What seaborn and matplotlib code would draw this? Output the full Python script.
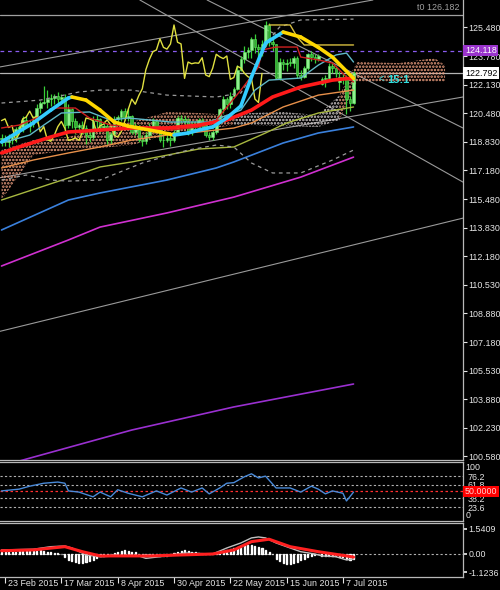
import numpy as np
import pandas as pd
import seaborn as sns
import matplotlib.pyplot as plt
from matplotlib.transforms import ScaledTranslation

# USDJPY daily bars, 20 Feb - 10 Jul 2015
dates = pd.bdate_range("2015-02-20", periods=101)
opens = [119.00, 119.05, 118.80, 118.90, 119.20, 119.55, 119.65, 120.10, 119.75, 119.85,
         120.10, 120.80, 121.05, 121.15, 121.30, 121.35, 121.45, 121.30, 121.40, 119.80,
         120.70, 120.00, 119.70, 119.80, 119.60, 119.20, 119.10, 120.05, 120.15, 119.65,
         119.75, 118.90, 119.30, 120.15, 120.25, 120.60, 120.20, 120.30, 119.40, 119.70,
         118.95, 118.85, 119.20, 119.70, 120.00, 119.60, 118.90, 118.95, 119.05, 118.90,
         119.40, 120.20, 120.15, 120.05, 119.40, 119.75, 119.85, 120.10, 119.80, 119.20,
         119.10, 119.40, 120.00, 120.70, 121.30, 121.00, 121.50, 121.90, 123.00, 123.60,
         124.05, 124.15, 124.80, 124.30, 124.20, 124.50, 125.60, 124.60, 124.50, 122.50,
         123.45, 123.35, 123.40, 123.38, 123.70, 122.70, 122.60, 123.10, 123.90, 123.75,
         123.65, 122.20, 122.45, 122.55, 123.20, 123.10, 122.30, 122.60, 122.50, 121.30,
         121.10]
highs = [119.30, 119.20, 119.30, 119.30, 119.70, 119.80, 120.30, 120.30, 120.10, 120.30,
         121.00, 121.20, 122.03, 121.80, 121.60, 121.60, 121.70, 121.60, 121.60, 121.00,
         120.80, 120.20, 119.90, 120.00, 119.80, 119.50, 120.30, 120.40, 120.20, 120.00,
         119.90, 119.40, 120.30, 120.40, 120.70, 120.80, 120.80, 120.40, 119.90, 119.80,
         119.20, 119.40, 119.90, 120.20, 120.10, 119.70, 119.30, 119.30, 119.20, 119.70,
         120.30, 120.40, 120.30, 120.20, 120.00, 120.00, 120.20, 120.20, 119.90, 119.40,
         119.50, 120.10, 120.80, 121.50, 121.40, 121.70, 122.00, 123.30, 123.80, 124.40,
         124.30, 124.90, 125.10, 124.50, 124.70, 125.86, 125.70, 124.90, 124.50, 123.70,
         123.60, 123.60, 123.70, 123.80, 123.80, 123.00, 123.20, 124.00, 124.10, 123.90,
         123.90, 122.60, 122.70, 123.40, 123.40, 123.20, 122.90, 122.80, 122.70, 121.50,
         122.95]
lows = [118.60, 118.60, 118.50, 118.70, 118.80, 119.30, 119.40, 119.60, 119.40, 119.70,
        119.90, 120.50, 121.00, 120.80, 120.90, 121.00, 121.00, 121.10, 119.30, 119.60,
        119.60, 119.30, 119.40, 119.30, 118.70, 118.80, 119.00, 119.60, 119.40, 119.50,
        118.70, 118.70, 119.20, 119.80, 120.00, 120.10, 120.00, 119.30, 119.20, 118.80,
        118.60, 118.70, 119.00, 119.50, 119.50, 118.80, 118.50, 118.80, 118.60, 118.80,
        119.20, 119.90, 119.70, 119.20, 119.20, 119.40, 119.60, 119.50, 119.10, 118.90,
        118.90, 119.30, 119.90, 120.50, 120.70, 120.80, 121.40, 121.80, 122.90, 123.40,
        123.70, 123.70, 124.00, 123.70, 123.80, 124.40, 124.40, 124.10, 122.45, 122.40,
        123.00, 122.90, 123.20, 123.10, 122.50, 122.40, 122.50, 123.00, 123.50, 123.40,
        123.50, 122.10, 122.00, 122.40, 122.80, 122.60, 121.80, 122.20, 120.41, 120.60,
        121.00]
closes = [119.05, 118.80, 118.90, 119.20, 119.55, 119.65, 120.10, 119.75, 119.85, 120.10,
          120.80, 121.05, 121.15, 121.30, 121.35, 121.45, 121.30, 121.40, 119.80, 120.70,
          120.00, 119.70, 119.80, 119.60, 119.20, 119.10, 120.05, 120.15, 119.65, 119.75,
          118.90, 119.30, 120.15, 120.25, 120.60, 120.20, 120.30, 119.40, 119.70, 118.95,
          118.85, 119.20, 119.70, 120.00, 119.60, 118.90, 118.95, 119.05, 118.90, 119.40,
          120.20, 120.15, 120.05, 119.40, 119.75, 119.85, 120.10, 119.80, 119.20, 119.10,
          119.40, 120.00, 120.70, 121.30, 121.00, 121.50, 121.90, 123.00, 123.60, 124.05,
          124.15, 124.80, 124.30, 124.20, 124.50, 125.60, 124.60, 124.50, 122.50, 123.45,
          123.35, 123.40, 123.38, 123.70, 122.70, 122.60, 123.10, 123.90, 123.75, 123.65,
          123.80, 122.45, 122.55, 123.20, 123.10, 122.80, 122.60, 122.50, 121.30, 121.10,
          122.79]

# slope coloured MA (cyan rising / yellow falling)
ma_idx = [0, 9, 14, 19, 20, 24, 28, 32, 36, 39, 45, 49, 53, 56, 60, 64, 68, 71, 75, 80, 85, 90, 94, 100]
ma_val = [118.81, 119.91, 120.66, 121.36, 121.42, 121.24, 120.66, 119.97, 119.73, 119.62, 119.39, 119.21,
          119.33, 119.50, 119.68, 120.20, 120.90, 122.58, 124.55, 125.19, 124.90, 124.30, 123.74, 122.50]
red_idx = [0, 5, 14, 19, 28, 37, 47, 56, 64, 71, 77, 85, 94, 100]
red_val = [118.17, 118.52, 119.10, 119.39, 119.50, 119.62, 119.62, 119.79, 120.08, 120.66, 121.42, 122.00, 122.40, 122.52]
tenkan_idx = [0, 5, 12, 15, 21, 25, 31, 39, 48, 56, 61, 68, 73, 74, 78, 84, 85, 90, 94, 98, 100]
tenkan_val = [119.62, 119.79, 120.37, 120.78, 120.78, 120.20, 119.79, 119.68, 119.50, 119.68, 120.08,
              121.82, 123.16, 124.15, 124.32, 124.32, 123.74, 123.57, 123.39, 122.58, 122.29]
kijun_idx = [0, 8, 12, 17, 25, 31, 36, 48, 59, 68, 72, 76, 85, 90, 95, 98, 100]
kijun_val = [118.75, 119.21, 119.79, 120.49, 120.55, 120.08, 120.20, 119.97, 119.97, 120.66, 121.82,
             122.40, 122.52, 123.27, 123.86, 123.97, 123.45]
orange_idx = [0, 9, 19, 28, 37, 47, 56, 66, 71, 80, 90, 100]
orange_val = [117.30, 117.76, 118.17, 118.52, 118.92, 119.21, 119.39, 119.62, 119.91, 120.84, 121.53, 121.82]
olive_idx = [0, 19, 28, 37, 56, 66, 75, 81, 90, 100]
olive_val = [115.44, 116.72, 117.36, 117.65, 118.40, 118.52, 119.33, 119.91, 120.49, 120.84]
blue_idx = [0, 19, 28, 47, 61, 66, 80, 90, 100]
blue_val = [113.70, 115.44, 115.85, 116.60, 117.30, 117.65, 118.75, 119.33, 119.68]
magenta_idx = [0, 19, 28, 47, 66, 85, 100]
magenta_val = [111.61, 113.12, 113.87, 114.69, 115.61, 116.77, 117.93]
violet_idx = [0, 7, 37, 66, 100]
violet_val = [100.00, 100.40, 102.09, 103.43, 104.76]
chan_idx = [76, 82, 84, 86, 100]
chan_val = [125.60, 125.60, 124.90, 124.44, 124.44]
upper_idx = [0, 11, 22, 28, 37, 47, 61, 68, 72, 76, 79, 85, 100]
upper_val = [121.07, 121.24, 121.71, 121.82, 121.82, 121.53, 121.42, 121.65, 122.98, 124.73, 125.48, 125.89, 125.94]
lower_idx = [0, 7, 14, 19, 28, 40, 53, 61, 66, 71, 77, 85, 94, 100]
lower_val = [116.60, 116.89, 116.60, 116.54, 116.60, 117.59, 118.34, 118.63, 118.52, 117.59, 117.01, 117.01, 117.76, 118.34]
cloud_idx = [0, 9, 19, 28, 37, 47, 56, 66, 71, 80, 90, 96, 101, 113, 123, 126]
cloud_a = [118.34, 118.92, 119.10, 119.68, 119.97, 120.55, 120.49, 120.37, 120.49, 120.55, 120.37, 121.53,
           123.45, 123.39, 123.68, 123.27]
cloud_b = [115.44, 118.05, 118.34, 118.46, 118.63, 119.21, 119.50, 119.79, 119.79, 119.73, 119.68, 120.08,
           122.29, 122.29, 122.29, 122.29]
# trend lines: two anchor points each (bar index, price)
trendlines = [((0, 123.18), (105.5, 127.05)),
              ((39.3, 127.05), (131.1, 116.48)),
              ((58.4, 127.05), (131.1, 119.62)),
              ((0, 116.75), (131.1, 121.42)),
              ((0, 107.84), (131.1, 114.39))]
price_ticks = [125.48, 123.78, 122.13, 120.48, 118.83, 117.18, 115.48, 113.83, 112.18,
               110.53, 108.88, 107.18, 105.53, 103.88, 102.23, 100.58]

rsi_idx = [0, 5, 8, 12, 16, 18, 19, 22, 26, 28, 31, 33, 36, 40, 44, 47, 51, 54, 57, 59,
           62, 64, 66, 69, 71, 73, 75, 78, 82, 85, 88, 90, 92, 94, 97, 98, 100]
rsi_val = [51, 54, 59, 64, 66, 64, 51, 49, 41, 49, 41, 53, 47, 41, 51, 44, 56, 49, 56, 46,
           56, 64, 65, 75, 80, 73, 76, 56, 56, 49, 59, 54, 46, 51, 47, 34, 49]
rsi_levels = [76.2, 61.8, 38.2, 23.6]

macd_idx = [0, 9, 14, 18, 20, 24, 28, 33, 39, 41, 47, 52, 60, 64, 68, 71, 73, 75, 78, 82, 85, 89, 91, 95, 98, 100]
macd_val = [0.25, 0.29, 0.45, 0.49, 0.37, -0.06, -0.17, -0.12, -0.12, -0.27, -0.12, 0.06, 0.0, 0.37,
            0.68, 0.99, 1.05, 0.99, 0.68, 0.37, 0.14, 0.0, -0.12, -0.17, -0.37, -0.31]
sig_idx = [0, 9, 18, 23, 28, 42, 60, 66, 71, 76, 82, 90, 98, 100]
sig_val = [0.20, 0.25, 0.45, 0.14, -0.12, -0.12, 0.0, 0.25, 0.76, 0.91, 0.45, 0.14, -0.12, -0.19]
hist_val = [0.10, 0.12, 0.12, 0.15, 0.15, 0.18, 0.2, 0.2, 0.18, 0.18, 0.2, 0.22, 0.2, 0.15, 0.12, 0.08, 0.05, 0.0,
            -0.2, -0.35, -0.45, -0.5, -0.55, -0.55, -0.5, -0.45, -0.35, -0.25,
            -0.15, -0.1, -0.05, 0.0, 0.05, 0.1,
            0.2, 0.25, 0.2, 0.15, 0.1,
            0.0, -0.05, -0.1, -0.12, -0.1, -0.08, -0.1, -0.12, -0.1, -0.05,
            0.05, 0.12, 0.2, 0.22, 0.18, 0.15, 0.1, 0.05,
            0.0, -0.02, 0.0, 0.02, 0.05,
            0.1, 0.18, 0.25, 0.32, 0.38, 0.45, 0.5, 0.55, 0.58, 0.55, 0.5, 0.42, 0.35, 0.25,
            0.1, 0.0,
            -0.3, -0.45, -0.55, -0.6, -0.6, -0.55, -0.5, -0.4, -0.3,
            -0.2, -0.1, -0.05, 0.0, -0.1, -0.15, -0.1, -0.1, -0.15, -0.2, -0.2, -0.3, -0.35, -0.3]

sns.set_theme(style="dark", rc={"axes.facecolor": "black", "figure.facecolor": "black",
                                "axes.edgecolor": "#c8c8c8", "axes.grid": False,
                                "text.color": "#e6e6e6", "hatch.linewidth": 1.2})
plt.rcParams["font.family"] = ["Liberation Sans", "DejaVu Sans"]

fig = plt.figure(figsize=(5, 5.9), dpi=100)
ax = fig.add_axes([0, 0.22034, 0.926, 0.77966])
ax_rsi = fig.add_axes([0, 0.11695, 0.926, 0.1])
ax_macd = fig.add_axes([0, 0.02203, 0.926, 0.09153])
XL = (-0.43, 131.1)
FS = 6.4
LBL = "#e6e6e6"
SPINE = "#b8b8b8"

# ---------------- main price window ----------------
ax.set_facecolor("black")
ax.axhline(126.182, color="#a0a0a0", lw=0.9, zorder=1)
ax.axhline(124.118, color="#8a5cf0", lw=0.9, ls=(0, (3, 3)), zorder=1)
ax.axhline(122.792, color="#b4b4b4", lw=0.9, zorder=1)
for p1, p2 in trendlines:
    ax.axline(p1, p2, color="#9a9a9a", lw=0.8, zorder=1)

# ichimoku cloud, dotted hatch
ax.fill_between(cloud_idx[:8], cloud_a[:8], cloud_b[:8], facecolor="none",
                edgecolor="#f0a080", hatch=".....", linewidth=0, zorder=2)
ax.fill_between(cloud_idx[7:12], cloud_a[7:12], cloud_b[7:12], facecolor="none",
                edgecolor="#d8d0d0", hatch=".....", linewidth=0, zorder=2)
ax.fill_between(cloud_idx[11:], cloud_a[11:], cloud_b[11:], facecolor="none",
                edgecolor="#f0a080", hatch=".....", linewidth=0, zorder=2)

# candles
x = np.arange(len(closes))
o, h, l, c = map(np.array, (opens, highs, lows, closes))
up = c >= o
ax.vlines(x, l, h, color="#38d038", lw=0.9, zorder=3)
ax.bar(x, np.maximum(np.abs(c - o), 0.05), bottom=np.minimum(o, c), width=0.72,
       color=np.where(up, "#8ff08f", "#30b030"), edgecolor="#5fe85f", linewidth=0.4, zorder=3.5)

# indicator lines
sns.lineplot(x=violet_idx, y=violet_val, ax=ax, color="#9a30d0", lw=1.2, zorder=4)
sns.lineplot(x=magenta_idx, y=magenta_val, ax=ax, color="#d030d0", lw=1.2, zorder=4)
sns.lineplot(x=blue_idx, y=blue_val, ax=ax, color="#3a80dc", lw=1.2, zorder=4)
sns.lineplot(x=olive_idx, y=olive_val, ax=ax, color="#a8b840", lw=1.0, zorder=4)
sns.lineplot(x=orange_idx, y=orange_val, ax=ax, color="#e8904a", lw=1.0, zorder=4)
sns.lineplot(x=upper_idx, y=upper_val, ax=ax, color="#9a9a9a", lw=0.9, ls=(0, (3, 3)), zorder=4)
sns.lineplot(x=lower_idx, y=lower_val, ax=ax, color="#9a9a9a", lw=0.9, ls=(0, (3, 3)), zorder=4)
sns.lineplot(x=x[:len(closes) - 26], y=closes[26:], ax=ax, color="#e0e040", lw=1.0, zorder=4)
sns.lineplot(x=kijun_idx, y=kijun_val, ax=ax, color="#60b8c8", lw=1.0, zorder=4)
sns.lineplot(x=tenkan_idx, y=tenkan_val, ax=ax, color="#d02020", lw=1.0, zorder=4)
sns.lineplot(x=chan_idx, y=chan_val, ax=ax, color="#d8c040", lw=1.0, zorder=4)
sns.lineplot(x=red_idx, y=red_val, ax=ax, color="#ff1a1a", lw=2.6, zorder=5)
for i in range(len(ma_idx) - 1):
    col = "#33ccff" if ma_val[i + 1] >= ma_val[i] else "#ffd700"
    ax.plot(ma_idx[i:i + 2], ma_val[i:i + 2], color=col, lw=2.6, zorder=6,
            solid_capstyle="round")

ax.text(107, 122.45, "<", color="#33cccc", fontsize=7, va="center", zorder=7)
ax.text(109.5, 122.40, "15:1", color="#33dddd", fontsize=8, fontweight="bold", va="center", zorder=7)
ax.text(0.992, 0.983, "t0 126.182", transform=ax.transAxes, color="#a0a0a0", fontsize=FS,
        ha="right", va="center")

ax.set_xlim(*XL)
ax.set_ylim(100.35, 127.05)
ax.set_yticks(price_ticks)
ax.set_yticklabels([f"{t:.3f}" for t in price_ticks])
ax.set_xticks([])
ax.yaxis.tick_right()
ax.tick_params(axis="y", right=True, left=False, length=3, width=0.8, pad=1,
               labelsize=FS, colors=LBL)
ax.set_xlabel("")
ax.set_ylabel("")
for s in ("top", "left"):
    ax.spines[s].set_visible(False)
for s in ("right", "bottom"):
    ax.spines[s].set_color(SPINE)
    ax.spines[s].set_linewidth(0.9)

ytr = ax.get_yaxis_transform()
ax.text(1.004, 124.118, "124.118", transform=ytr, color="white", fontsize=FS, va="center",
        ha="left", clip_on=False, zorder=10,
        bbox=dict(facecolor="#9933cc", edgecolor="none", pad=1.0))
ax.text(1.004, 122.792, "122.792", transform=ytr, color="black", fontsize=FS, va="center",
        ha="left", clip_on=False, zorder=10,
        bbox=dict(facecolor="white", edgecolor="none", pad=1.0))

# ---------------- RSI window ----------------
ax_rsi.set_facecolor("black")
for lv in rsi_levels:
    ax_rsi.axhline(lv, color="#b0b0b0", lw=0.8, ls=(0, (2, 2)))
ax_rsi.axhline(50, color="#ff3030", lw=0.9, ls=(0, (2, 2)))
sns.lineplot(x=rsi_idx, y=rsi_val, ax=ax_rsi, color="#4a8ad8", lw=1.0)
ax_rsi.set_xlim(*XL)
ax_rsi.set_ylim(0, 100)
ax_rsi.set_xticks([])
ax_rsi.yaxis.tick_right()
ax_rsi.set_yticks(rsi_levels)
ax_rsi.set_yticklabels([str(v) for v in rsi_levels])
ax_rsi.tick_params(axis="y", right=True, left=False, length=0, pad=3, labelsize=FS, colors=LBL)
rtr = ax_rsi.get_yaxis_transform()
ax_rsi.text(1.006, 99, "100", transform=rtr, fontsize=FS, color=LBL, va="top", clip_on=False)
ax_rsi.text(1.006, 1, "0", transform=rtr, fontsize=FS, color=LBL, va="bottom", clip_on=False)
ax_rsi.text(1.004, 50, "50.0000", transform=rtr, color="#ffd0d0", fontsize=FS, va="center",
            ha="left", clip_on=False, zorder=10,
            bbox=dict(facecolor="#ff0000", edgecolor="none", pad=1.0))
ax_rsi.set_xlabel("")
ax_rsi.set_ylabel("")
ax_rsi.spines["left"].set_visible(False)
for s in ("right", "top", "bottom"):
    ax_rsi.spines[s].set_color(SPINE)
    ax_rsi.spines[s].set_linewidth(0.9)

# ---------------- MACD window ----------------
ax_macd.set_facecolor("black")
ax_macd.axhline(0, color="#b0b0b0", lw=0.8, ls=(0, (2, 2)))
ax_macd.bar(x, hist_val, width=0.3, color="#d8d8d8", zorder=2)
sns.lineplot(x=macd_idx, y=macd_val, ax=ax_macd, color="#c0c0c0", lw=1.0, zorder=3)
sns.lineplot(x=sig_idx, y=sig_val, ax=ax_macd, color="#ff2020", lw=2.2, zorder=4)
ax_macd.set_xlim(*XL)
ax_macd.set_ylim(-1.42, 1.91)
ax_macd.yaxis.tick_right()
ax_macd.set_yticks([1.5409, 0.0, -1.1236])
ax_macd.set_yticklabels(["1.5409", "0.00", "-1.1236"])
ax_macd.tick_params(axis="y", right=True, left=False, length=3, pad=1, labelsize=FS, colors=LBL)
tick_idx = list(range(1, len(closes), 16))
ax_macd.set_xticks(tick_idx)
ax_macd.set_xticklabels([d.strftime("%d %b %Y").lstrip("0") for d in dates[tick_idx]], ha="left")
ax_macd.tick_params(axis="x", bottom=True, length=4, width=0.8, pad=-2.5, labelsize=FS, colors=LBL)
shift = ScaledTranslation(3 / 100, 0, fig.dpi_scale_trans)
for lab in ax_macd.get_xticklabels():
    lab.set_transform(lab.get_transform() + shift)
ax_macd.set_xlabel("")
ax_macd.set_ylabel("")
ax_macd.spines["left"].set_visible(False)
for s in ("right", "top", "bottom"):
    ax_macd.spines[s].set_color(SPINE)
    ax_macd.spines[s].set_linewidth(0.9)

fig.savefig("out.png", dpi=100, facecolor="black")
